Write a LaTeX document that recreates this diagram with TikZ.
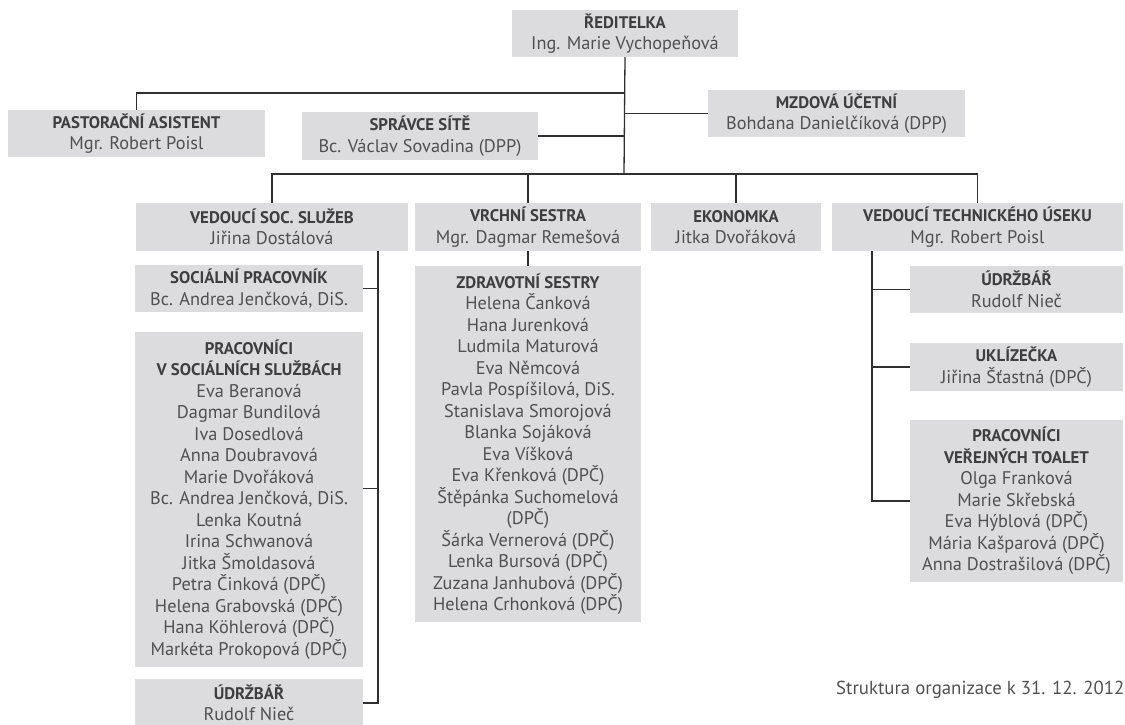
\documentclass[tikz,border=0pt]{standalone}
\usepackage{fontspec}
\setmainfont{PT Sans}
\definecolor{boxfill}{HTML}{DCDCDE}
\definecolor{headc}{HTML}{3E3E40}
\definecolor{namec}{HTML}{505052}
\definecolor{linec}{HTML}{303030}
\newcommand{\hd}[1]{{\fontsize{16.8}{21.5}\selectfont\bfseries\color{headc}#1}}
\begin{document}
\begin{tikzpicture}[x=1pt,y=-1pt,
  orgbox/.style={fill=boxfill, draw=none, inner sep=0pt, align=center,
    text=namec, font=\fontsize{18.3}{21.5}\selectfont},
  conn/.style={draw=linec, line width=1.3pt}]
\useasboundingbox (0,0) rectangle (1125,725);
% top
\node[orgbox, minimum width=226, minimum height=47] (dir) at (625,33.5) {\hd{ŘEDITELKA}\\Ing. Marie Vychopeňová};
\node[orgbox, minimum width=257, minimum height=47] (past) at (136.5,133.5) {\hd{PASTORAČNÍ ASISTENT}\\Mgr. Robert Poisl};
\node[orgbox, minimum width=236, minimum height=48] (sit) at (420,136) {\hd{SPRÁVCE SÍTĚ}\\Bc. Václav Sovadina (DPP)};
\node[orgbox, minimum width=257, minimum height=47] (mzd) at (836.5,113.5) {\hd{MZDOVÁ ÚČETNÍ}\\Bohdana Danielčíková (DPP)};
% second row
\node[orgbox, minimum width=272, minimum height=48] (soc) at (272,227) {\hd{VEDOUCÍ SOC. SLUŽEB}\\Jiřina Dostálová};
\node[orgbox, minimum width=226, minimum height=48] (vrch) at (528,227) {\hd{VRCHNÍ SESTRA}\\Mgr. Dagmar Remešová};
\node[orgbox, minimum width=170, minimum height=48] (eko) at (736,227) {\hd{EKONOMKA}\\Jitka Dvořáková};
\node[orgbox, minimum width=291, minimum height=48] (tech) at (977.5,227) {\hd{VEDOUCÍ TECHNICKÉHO ÚSEKU}\\Mgr. Robert Poisl};
% left column
\node[orgbox, minimum width=228, minimum height=47] (socp) at (249,288.5) {\hd{SOCIÁLNÍ PRACOVNÍK}\\Bc. Andrea Jenčková, DiS.};
\node[orgbox, minimum width=228, minimum height=335] (prac) at (249,499.5) {\hd{PRACOVNÍCI}\\\hd{V SOCIÁLNÍCH SLUŽBÁCH}\\Eva Beranová\\Dagmar Bundilová\\Iva Dosedlová\\Anna Doubravová\\Marie Dvořáková\\Bc. Andrea Jenčková, DiS.\\Lenka Koutná\\Irina Schwanová\\Jitka Šmoldasová\\Petra Činková (DPČ)\\Helena Grabovská (DPČ)\\Hana Köhlerová (DPČ)\\Markéta Prokopová (DPČ)};
\node[orgbox, minimum width=228, minimum height=48] (udl) at (249,703) {\hd{ÚDRŽBÁŘ}\\Rudolf Nieč};
% middle column
\node[orgbox, minimum width=226, minimum height=356] (zdr) at (528,444) {\hd{ZDRAVOTNÍ SESTRY}\\Helena Čanková\\Hana Jurenková\\Ludmila Maturová\\Eva Němcová\\Pavla Pospíšilová, DiS.\\Stanislava Smorojová\\Blanka Sojáková\\Eva Víšková\\Eva Křenková (DPČ)\\Štěpánka Suchomelová\\(DPČ)\\Šárka Vernerová (DPČ)\\Lenka Bursová (DPČ)\\Zuzana Janhubová (DPČ)\\Helena Crhonková (DPČ)};
% right column
\node[orgbox, minimum width=213, minimum height=47] (udr) at (1016.5,289.5) {\hd{ÚDRŽBÁŘ}\\Rudolf Nieč};
\node[orgbox, minimum width=213, minimum height=48] (ukl) at (1016.5,367) {\hd{UKLÍZEČKA}\\Jiřina Šťastná (DPČ)};
\node[orgbox, minimum width=213, minimum height=162] (prv) at (1016.5,501) {\hd{PRACOVNÍCI}\\\hd{VEŘEJNÝCH TOALET}\\Olga Franková\\Marie Skřebská\\Eva Hýblová (DPČ)\\Mária Kašparová (DPČ)\\Anna Dostrašilová (DPČ)};
% footer
\node[anchor=west, inner sep=0pt, text=namec, font=\fontsize{18.8}{22}\selectfont] (foot) at (836,690) {Struktura organizace k 31. 12. 2012};
% helper coordinates
\coordinate (jl) at (624,93);
\coordinate (bus) at (624,174);
\coordinate (lsp) at (378,251);
\coordinate (rsp) at (872,251);
% connectors
\draw[conn] (dir.south) -- (bus);
\draw[conn] (past.north) |- (jl);
\draw[conn] (sit.east) -- (sit.east -| bus);
\draw[conn] (mzd.west) -- (mzd.west -| bus);
\draw[conn] (soc.north) |- (bus) -| (tech.north);
\draw[conn] (vrch.north) -- (vrch.north |- bus);
\draw[conn] (eko.north) -- (eko.north |- bus);
\draw[conn] (vrch.south) -- (zdr.north);
\draw[conn] (lsp) |- (udl.east);
\draw[conn] (socp.east) -- (socp.east -| lsp);
\draw[conn] ([yshift=11pt]prac.east) -- ([yshift=11pt]prac.east -| lsp);
\draw[conn] (rsp) |- (prv.west);
\draw[conn] (udr.west) -- (udr.west -| rsp);
\draw[conn] (ukl.west) -- (ukl.west -| rsp);
\end{tikzpicture}
\end{document}
